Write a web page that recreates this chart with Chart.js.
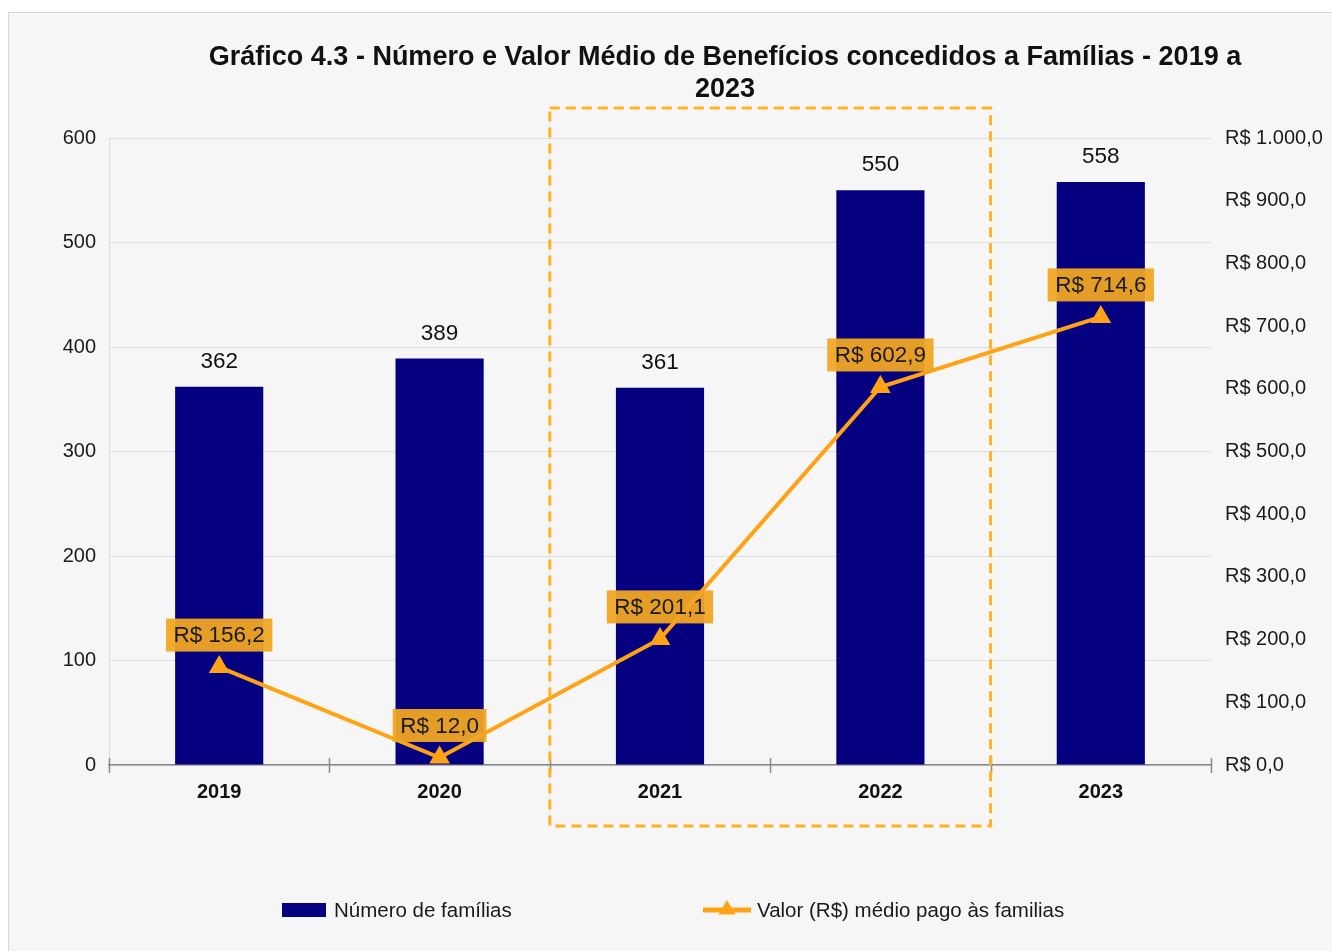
<!DOCTYPE html>
<html>
<head>
<meta charset="utf-8">
<script src="https://cdn.jsdelivr.net/npm/chart.js@4/dist/chart.umd.min.js"></script>
<style>
html, body { margin: 0; padding: 0; background: #ffffff; }
canvas { display: block; }
</style>
</head>
<body>
<canvas id="grafico" width="1332" height="951"></canvas>
<script>
const anos = ['2019', '2020', '2021', '2022', '2023']
const numeroFamilias = [362, 389, 361, 550, 558]
const valorMedio = [156.2, 12.0, 201.1, 602.9, 714.6]
const ticksFamilias = [0, 100, 200, 300, 400, 500, 600]
const ticksValor = [0, 100, 200, 300, 400, 500, 600, 700, 800, 900, 1000]
const tituloLinhas = ['Gráfico 4.3 - Número e Valor Médio de Benefícios concedidos a Famílias - 2019 a', '2023']

const fonte = '"Liberation Sans", Arial, sans-serif'
const azul = '#05007f'
const laranja = '#ffa316'

// formata numero no padrao brasileiro: 1.000,0
const fmtBR = (v) => {
    const partes = v.toFixed(1).split('.')
    const inteiro = partes[0].replace(/\B(?=(\d{3})+(?!\d))/g, '.')
    return inteiro + ',' + partes[1]
}

const desenhaTriangulo = (ctx, x, y, r) => {
    ctx.beginPath()
    ctx.moveTo(x, y - r)
    ctx.lineTo(x + r * 0.95, y + r * 0.6)
    ctx.lineTo(x - r * 0.95, y + r * 0.6)
    ctx.closePath()
    ctx.fill()
}

const extras = {
    id: 'extras',
    beforeDraw(chart) {
        const ctx = chart.ctx
        ctx.save()
        ctx.fillStyle = '#ffffff'
        ctx.fillRect(0, 0, chart.width, chart.height)
        ctx.fillStyle = '#f6f6f6'
        ctx.fillRect(9, 13, chart.width - 9, chart.height - 13)
        ctx.strokeStyle = '#d6d6d6'
        ctx.lineWidth = 1
        ctx.strokeRect(8.5, 12.5, chart.width, chart.height)

        // titulo
        ctx.fillStyle = '#111111'
        ctx.font = 'bold 27px ' + fonte
        ctx.textAlign = 'center'
        ctx.textBaseline = 'middle'
        tituloLinhas.forEach((linha, i) => ctx.fillText(linha, 725, 58 + i * 32))
        ctx.restore()
    },
    afterDatasetsDraw(chart) {
        const ctx = chart.ctx
        const area = chart.chartArea
        const xs = chart.scales.x
        const passo = xs.getPixelForValue(1) - xs.getPixelForValue(0)
        ctx.save()

        // marcas do eixo x entre categorias
        ctx.strokeStyle = '#888888'
        ctx.lineWidth = 1.5
        for (let i = 0; i <= anos.length; i++) {
            const x = Math.round(xs.getPixelForValue(0) - passo / 2 + i * passo) + 0.5
            ctx.beginPath()
            ctx.moveTo(x, area.bottom - 7)
            ctx.lineTo(x, area.bottom + 8)
            ctx.stroke()
        }

        // rotulos das barras
        ctx.font = '22.5px ' + fonte
        ctx.textAlign = 'center'
        ctx.textBaseline = 'middle'
        ctx.fillStyle = '#111111'
        const barras = chart.getDatasetMeta(1).data
        barras.forEach((b, i) => ctx.fillText(String(numeroFamilias[i]), b.x, b.y - 25))

        // rotulos da linha
        const pontos = chart.getDatasetMeta(0).data
        pontos.forEach((p, i) => {
            const txt = 'R$ ' + fmtBR(valorMedio[i])
            const w = ctx.measureText(txt).width + 15
            const cy = p.y - 32
            ctx.fillStyle = 'rgba(240, 166, 36, 0.95)'
            ctx.fillRect(p.x - w / 2, cy - 16.5, w, 33)
            ctx.fillStyle = '#1a1a1a'
            ctx.fillText(txt, p.x, cy + 1)
        })

        // destaque tracejado 2021-2022
        const x0 = xs.getPixelForValue(2) - passo / 2
        const x1 = xs.getPixelForValue(3) + passo / 2
        ctx.strokeStyle = '#ffb224'
        ctx.lineWidth = 3
        ctx.setLineDash([10, 6])
        ctx.strokeRect(x0, area.top - 30, x1 - x0, area.bottom - area.top + 91)
        ctx.setLineDash([])

        // legenda
        ctx.textAlign = 'left'
        ctx.font = '20.5px ' + fonte
        ctx.fillStyle = azul
        ctx.fillRect(282, 903, 44, 14)
        ctx.fillStyle = '#1a1a1a'
        ctx.fillText(chart.data.datasets[1].label, 334, 911)
        ctx.strokeStyle = laranja
        ctx.lineWidth = 5
        ctx.beginPath()
        ctx.moveTo(703, 910)
        ctx.lineTo(751, 910)
        ctx.stroke()
        ctx.fillStyle = laranja
        desenhaTriangulo(ctx, 727, 909, 9)
        ctx.fillStyle = '#1a1a1a'
        ctx.fillText(chart.data.datasets[0].label, 757, 911)
        ctx.restore()
    }
}

const config = {
    data: {
        labels: anos,
        datasets: [
            {
                type: 'line',
                label: 'Valor (R$) médio pago às familias',
                data: valorMedio,
                yAxisID: 'y2',
                borderColor: laranja,
                backgroundColor: laranja,
                borderWidth: 4,
                pointStyle: 'triangle',
                pointRadius: 8,
                pointBackgroundColor: laranja,
                pointBorderColor: laranja,
                tension: 0,
                order: 0
            },
            {
                type: 'bar',
                label: 'Número de famílias',
                data: numeroFamilias,
                yAxisID: 'y',
                backgroundColor: azul,
                barPercentage: 0.4,
                categoryPercentage: 1.0,
                order: 1
            }
        ]
    },
    options: {
        responsive: false,
        animation: false,
        devicePixelRatio: 1,
        layout: { padding: { top: 138, left: 0, right: 0, bottom: 0 } },
        plugins: {
            legend: { display: false },
            title: { display: false },
            tooltip: { enabled: false }
        },
        scales: {
            x: {
                offset: true,
                grid: { display: false, drawTicks: false },
                border: { display: true, color: '#888888', width: 1.5 },
                ticks: { color: '#111111', font: { family: fonte, size: 20, weight: 'bold' }, padding: 15 },
                afterFit: (s) => { s.height = 186 }
            },
            y: {
                position: 'left',
                min: ticksFamilias[0],
                max: ticksFamilias[ticksFamilias.length - 1],
                afterBuildTicks: (s) => { s.ticks = ticksFamilias.map(v => ({ value: v })) },
                grid: { color: '#dddddd', lineWidth: 1, drawTicks: false },
                border: { display: true, color: '#dddddd' },
                ticks: { color: '#1a1a1a', font: { family: fonte, size: 20 }, padding: 13 },
                afterFit: (s) => { s.width = 109 }
            },
            y2: {
                position: 'right',
                min: ticksValor[0],
                max: ticksValor[ticksValor.length - 1],
                afterBuildTicks: (s) => { s.ticks = ticksValor.map(v => ({ value: v })) },
                grid: { display: false, drawTicks: false },
                border: { display: false },
                ticks: {
                    color: '#1a1a1a',
                    font: { family: fonte, size: 20 },
                    padding: 14,
                    callback: (v) => 'R$ ' + fmtBR(v)
                },
                afterFit: (s) => { s.width = 121 }
            }
        }
    },
    plugins: [extras]
}

window.graficoFamilias = new Chart(document.getElementById('grafico'), config)
</script>
</body>
</html>
